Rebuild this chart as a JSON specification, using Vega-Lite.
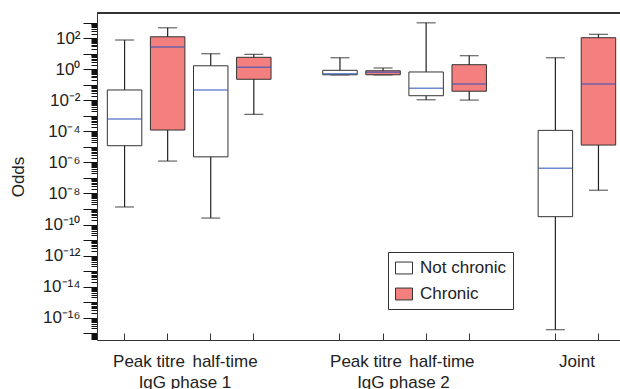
{
  "$schema": "https://vega.github.io/schema/vega-lite/v6.json",
  "autosize": "none",
  "width": 523,
  "height": 327,
  "padding": {"left": 97, "top": 13, "right": 0, "bottom": 49},
  "background": "white",
  "config": {
    "view": {"stroke": null},
    "axis": {"grid": false, "labelFont": "Liberation Sans", "titleFont": "Liberation Sans", "labelColor": "#222", "titleColor": "#222", "domainColor": "#333", "tickColor": "#333"}
  },
  "data": {"values": [
    {"slot": "P1-N", "measure": "Peak titre", "phase": "IgG phase 1", "status": "Not chronic", "min": 1.35e-9, "q1": 1.2e-5, "median": 6.3e-4, "q3": 0.047, "max": 78},
    {"slot": "P1-C", "measure": "Peak titre", "phase": "IgG phase 1", "status": "Chronic", "min": 1.23e-6, "q1": 1.23e-4, "median": 27.5, "q3": 126, "max": 479},
    {"slot": "H1-N", "measure": "half-time", "phase": "IgG phase 1", "status": "Not chronic", "min": 2.6e-10, "q1": 2.3e-6, "median": 0.047, "q3": 1.7, "max": 10.2},
    {"slot": "H1-C", "measure": "half-time", "phase": "IgG phase 1", "status": "Chronic", "min": 1.26e-3, "q1": 0.23, "median": 1.35, "q3": 6.0, "max": 9.3},
    {"slot": "P2-N", "measure": "Peak titre", "phase": "IgG phase 2", "status": "Not chronic", "min": 0.44, "q1": 0.45, "median": 0.52, "q3": 0.87, "max": 5.6},
    {"slot": "P2-C", "measure": "Peak titre", "phase": "IgG phase 2", "status": "Chronic", "min": 0.44, "q1": 0.45, "median": 0.65, "q3": 0.81, "max": 1.23},
    {"slot": "H2-N", "measure": "half-time", "phase": "IgG phase 2", "status": "Not chronic", "min": 0.011, "q1": 0.02, "median": 0.06, "q3": 0.68, "max": 1000},
    {"slot": "H2-C", "measure": "half-time", "phase": "IgG phase 2", "status": "Chronic", "min": 0.0105, "q1": 0.039, "median": 0.115, "q3": 2.0, "max": 7.6},
    {"slot": "J-N", "measure": "Joint", "phase": "", "status": "Not chronic", "min": 1.66e-17, "q1": 3.2e-10, "median": 4.2e-7, "q3": 1.17e-4, "max": 5.6},
    {"slot": "J-C", "measure": "Joint", "phase": "", "status": "Chronic", "min": 1.62e-8, "q1": 1.32e-5, "median": 0.115, "q3": 110, "max": 182}
  ]},
  "layer": [
    {
      "mark": {"type": "rule", "color": "#222", "strokeWidth": 1.2},
      "encoding": {
        "x": {"field": "slot", "type": "nominal", "title": null,
          "scale": {"domain": ["P1-N", "P1-C", "H1-N", "H1-C", "gap1", "P2-N", "P2-C", "H2-N", "H2-C", "gap2", "J-N", "J-C"], "paddingInner": 0, "paddingOuter": 0.07, "align": 1},
          "axis": {
            "values": ["P1-N", "P1-C", "H1-N", "H1-C", "P2-N", "P2-C", "H2-N", "H2-C", "J-N", "J-C"],
            "labelExpr": "datum.value == 'P1-N' || datum.value == 'P2-N' ? 'Peak titre' : datum.value == 'H1-N' || datum.value == 'H2-N' ? 'half-time' : datum.value == 'J-N' ? 'Joint' : datum.value == 'P1-C' ? ['', 'IgG phase 1'] : datum.value == 'P2-C' ? ['', 'IgG phase 2'] : ''",
            "labelAngle": 0, "labelAlign": "center", "labelBaseline": "top",
            "labelOffset": {"expr": "datum.value == 'P1-N' ? 24.4 : datum.value == 'H1-N' ? 14.3 : datum.value == 'P1-C' ? 17.3 : datum.value == 'P2-N' ? 26 : datum.value == 'H2-N' ? 15.8 : datum.value == 'P2-C' ? 20.4 : 21.6"},
            "labelPadding": 20.3, "labelLineHeight": 21,
            "labelFontSize": 17, "tickSize": -7, "tickWidth": 1, "labelOverlap": false
          }
        },
        "y": {"field": "min", "type": "quantitative", "title": "Odds",
          "scale": {"type": "log", "domain": [3.6e-18, 4300], "nice": false},
          "axis": {
            "tickCount": 1000,
            "values": [4e-18,5e-18,6e-18,7e-18,8e-18,9e-18,
              1e-17,2e-17,3e-17,4e-17,5e-17,6e-17,7e-17,8e-17,9e-17,
              1e-16,2e-16,3e-16,4e-16,5e-16,6e-16,7e-16,8e-16,9e-16,
              1e-15,2e-15,3e-15,4e-15,5e-15,6e-15,7e-15,8e-15,9e-15,
              1e-14,2e-14,3e-14,4e-14,5e-14,6e-14,7e-14,8e-14,9e-14,
              1e-13,2e-13,3e-13,4e-13,5e-13,6e-13,7e-13,8e-13,9e-13,
              1e-12,2e-12,3e-12,4e-12,5e-12,6e-12,7e-12,8e-12,9e-12,
              1e-11,2e-11,3e-11,4e-11,5e-11,6e-11,7e-11,8e-11,9e-11,
              1e-10,2e-10,3e-10,4e-10,5e-10,6e-10,7e-10,8e-10,9e-10,
              1e-9,2e-9,3e-9,4e-9,5e-9,6e-9,7e-9,8e-9,9e-9,
              1e-8,2e-8,3e-8,4e-8,5e-8,6e-8,7e-8,8e-8,9e-8,
              1e-7,2e-7,3e-7,4e-7,5e-7,6e-7,7e-7,8e-7,9e-7,
              1e-6,2e-6,3e-6,4e-6,5e-6,6e-6,7e-6,8e-6,9e-6,
              1e-5,2e-5,3e-5,4e-5,5e-5,6e-5,7e-5,8e-5,9e-5,
              1e-4,2e-4,3e-4,4e-4,5e-4,6e-4,7e-4,8e-4,9e-4,
              1e-3,2e-3,3e-3,4e-3,5e-3,6e-3,7e-3,8e-3,9e-3,
              1e-2,2e-2,3e-2,4e-2,5e-2,6e-2,7e-2,8e-2,9e-2,
              0.1,0.2,0.3,0.4,0.5,0.6,0.7,0.8,0.9,
              1,2,3,4,5,6,7,8,9,
              10,20,30,40,50,60,70,80,90,
              100,200,300,400,500,600,700,800,900,
              1000],
            "labelExpr": "abs(log(datum.value)/LN10 - round(log(datum.value)/LN10)) < 0.001 && round(log(datum.value)/LN10) % 2 == 0 ? '10' + replace(replace(replace(replace(replace(replace(replace(toString(round(log(datum.value)/LN10)), '-', '⁻'), '0', '⁰'), '1', '¹'), '2', '²'), '4', '⁴'), '6', '⁶'), '8', '⁸') : ''",
            "tickSize": {"condition": {"test": "abs(log(datum.value)/LN10 - round(log(datum.value)/LN10)) > 0.001", "value": 6}, "value": 14},
            "tickColor": "#111", "tickWidth": 1, "labelPadding": 3, "labelFontSize": 17, "labelOverlap": false,
            "titleFontSize": 17, "titleFontWeight": "normal", "titlePadding": 15
          }
        },
        "y2": {"field": "max"}
      }
    },
    {
      "mark": {"type": "tick", "color": "#222", "size": 19, "thickness": 1.2},
      "encoding": {
        "x": {"field": "slot", "type": "nominal", "title": null},
        "y": {"field": "min", "type": "quantitative", "title": "Odds"}
      }
    },
    {
      "mark": {"type": "tick", "color": "#222", "size": 19, "thickness": 1.2},
      "encoding": {
        "x": {"field": "slot", "type": "nominal", "title": null},
        "y": {"field": "max", "type": "quantitative", "title": "Odds"}
      }
    },
    {
      "mark": {"type": "bar", "stroke": "#333", "strokeWidth": 1, "width": {"band": 0.8}, "opacity": 1},
      "encoding": {
        "x": {"field": "slot", "type": "nominal", "title": null},
        "y": {"field": "q3", "type": "quantitative", "title": "Odds"},
        "y2": {"field": "q1"},
        "fill": {"field": "status", "type": "nominal",
          "scale": {"domain": ["Not chronic", "Chronic"], "range": ["#ffffff", "#f47f7f"]},
          "legend": {"title": null, "orient": "none", "legendX": 291, "legendY": 239, "strokeColor": "#333", "fillColor": "white", "padding": 7,
            "symbolType": "M-1,-0.7H1V0.7H-1Z", "symbolSize": 289, "symbolStrokeColor": "#333", "symbolStrokeWidth": 1, "symbolOpacity": 1,
            "labelFont": "Liberation Sans", "labelFontSize": 17, "labelColor": "#222", "rowPadding": 9, "labelOffset": 7, "cornerRadius": 0}
        }
      }
    },
    {
      "mark": {"type": "tick", "color": "#3355bb", "size": 34.5, "thickness": 1.5},
      "encoding": {
        "x": {"field": "slot", "type": "nominal", "title": null},
        "y": {"field": "median", "type": "quantitative", "title": "Odds"}
      }
    },
    {
      "mark": {"type": "rule", "color": "#333", "strokeWidth": 1},
      "encoding": {
        "y": {"datum": 4300, "type": "quantitative"}
      }
    }
  ]
}
